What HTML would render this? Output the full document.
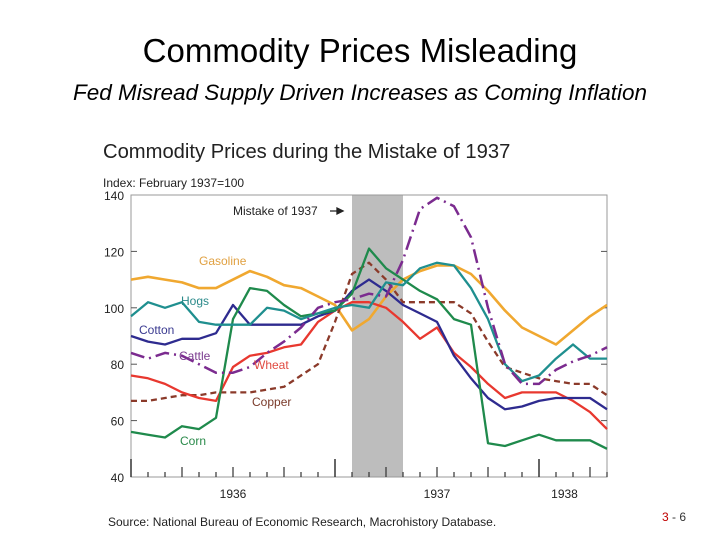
<!DOCTYPE html>
<html><head><meta charset="utf-8"><style>
body{margin:0;background:#fff;width:720px;height:540px;overflow:hidden;font-family:"Liberation Sans",sans-serif}
</style></head><body>
<svg width="720" height="540" xmlns="http://www.w3.org/2000/svg">
<text x="360" y="62" text-anchor="middle" font-size="33" fill="#000" font-family="Liberation Sans">Commodity Prices Misleading</text>
<text x="360" y="100" text-anchor="middle" font-size="22.5" font-style="italic" fill="#000">Fed Misread Supply Driven Increases as Coming Inflation</text>
<text x="103" y="158" font-size="20.2" fill="#222">Commodity Prices during the Mistake of 1937</text>
<text x="103" y="187" font-size="12" fill="#222">Index: February 1937=100</text>
<g id="plot"></g>
<text x="108" y="526" font-size="12" fill="#222">Source: National Bureau of Economic Research, Macrohistory Database.</text>
<text x="662" y="521" font-size="12"><tspan fill="#c00000">3</tspan><tspan fill="#333"> - 6</tspan></text>
</svg>
<script>
const months=[0,1,2,3,4,5,6,7,8,9,10,11,12,13,14,15,16,17,18,19,20,21,22,23,24,25,26,27,28];
const gasoline=[110,111,110,109,107,107,110,113,111,108,107,104,101,92,96,104,110,113,115,115,112,106,99,93,90,87,92,97,101];
const hogs=[97,102,100,102,95,94,94,94,100,99,96,98,100,101,100,109,108,114,116,115,107,96,80,74,76,82,87,82,82];
const corn=[56,55,54,58,57,61,96,107,106,101,97,98,99,105,121,114,110,106,103,96,94,52,51,53,55,53,53,53,50];
const cotton=[90,88,87,89,89,91,101,94,94,94,94,97,99,106,110,106,101,98,95,83,75,68,64,65,67,68,68,68,64];
const wheat=[76,75,73,70,68,67,79,83,84,86,87,95,99,102,102,100,95,89,93,84,79,73,68,70,70,70,67,63,57];
const copper=[67,67,68,69,69,70,70,70,71,72,76,80,95,112,116,110,102,102,102,102,98,88,79,77,75,74,73,73,69];
const cattle=[84,82,84,83,80,77,77,79,84,88,93,100,102,103,105,104,117,135,139,136,125,100,80,73,73,78,81,83,86];
const yTicks=[40,60,80,100,120,140];
const yearLabels=["1936","1937","1938"];
const yearMid=[6,18,25.5];
const shadeStart=13, shadeEnd=16;

const X=m=>131+m*17;
const Y=v=>477-(v-40)*2.82;
const NS="http://www.w3.org/2000/svg";
const g=document.getElementById('plot');
function mk(t,a){const e=document.createElementNS(NS,t);for(const k in a)e.setAttribute(k,a[k]);g.appendChild(e);return e;}

let sh=mk('rect',{x:X(shadeStart),y:Y(140),width:X(shadeEnd)-X(shadeStart),height:Y(40)-Y(140),fill:'#bdbdbd'});


let fr=mk('rect',{x:X(0),y:Y(140),width:X(28)-X(0),height:Y(40)-Y(140),fill:'none',stroke:'#999','stroke-width':1});



yTicks.forEach(v=>{
 let t=mk('text',{x:124,y:Y(v)+5,'text-anchor':'end','font-size':12,fill:'#222'});t.textContent=v;
 
 
 if(v>40&&v<140){let l=mk('line',{x1:X(0),x2:X(0)+6,y1:Y(v),y2:Y(v),stroke:'#555'});
 
 
 let r=mk('line',{x1:X(28)-6,x2:X(28),y1:Y(v),y2:Y(v),stroke:'#555'});
 
 }
});
months.forEach(m=>{
 const h=(m%12===0)?18:(m%3===0?10:5);
 let l=mk('line',{x1:X(m),x2:X(m),y1:Y(40),y2:Y(40)-h,stroke:'#333','stroke-width':m%12===0?1.5:1.2});
 
 
});
yearLabels.forEach((s,i)=>{let t=mk('text',{x:X(yearMid[i]),y:498,'text-anchor':'middle','font-size':12,fill:'#222'});t.textContent=s;
 
 });

function series(arr,color,dash,name,w){
 const d=arr.map((v,i)=>(i?'L':'M')+X(months[i]).toFixed(1)+' '+Y(v).toFixed(1)).join(' ');
 const p=mk('path',{d:d,fill:'none',stroke:color,'stroke-width':w||2.3,'stroke-linejoin':'round'});
 if(dash)p.setAttribute('stroke-dasharray',dash);
 
 
}
series(gasoline,'#f0a830',null,'gasoline-line',2.6);
series(copper,'#8b3a2a','6,4','copper-line',2.3);
series(wheat,'#e8382f',null,'wheat-line');
series(cotton,'#2e2b8f',null,'cotton-line');
series(corn,'#1f8a4c',null,'corn-line');
series(hogs,'#1f8f8f',null,'hogs-line');
series(cattle,'#7b2b8f','14,5,2,5','cattle-line',2.5);

function lab(s,x,y,c,n){let t=mk('text',{x:x,y:y,'font-size':12,fill:c});t.textContent=s;
 
 }
lab('Gasoline',199,265,'#e0a040','gasoline-label');
lab('Hogs',181,305,'#2a8a8a','hogs-label');
lab('Cotton',139,334,'#3a3a90','cotton-label');
lab('Cattle',179,360,'#7b3b8f','cattle-label');
lab('Wheat',254,369,'#e04a40','wheat-label');
lab('Copper',252,406,'#7a3a2a','copper-label');
lab('Corn',180,445,'#2a8a4a','corn-label');
lab('Mistake of 1937',233,215,'#222','mistake-annotation');
let ar=mk('path',{d:'M330 211 L343 211 M343 211 L337 208 L337 214 Z',stroke:'#222',fill:'#222','stroke-width':1.3});


</script>
</body></html>
